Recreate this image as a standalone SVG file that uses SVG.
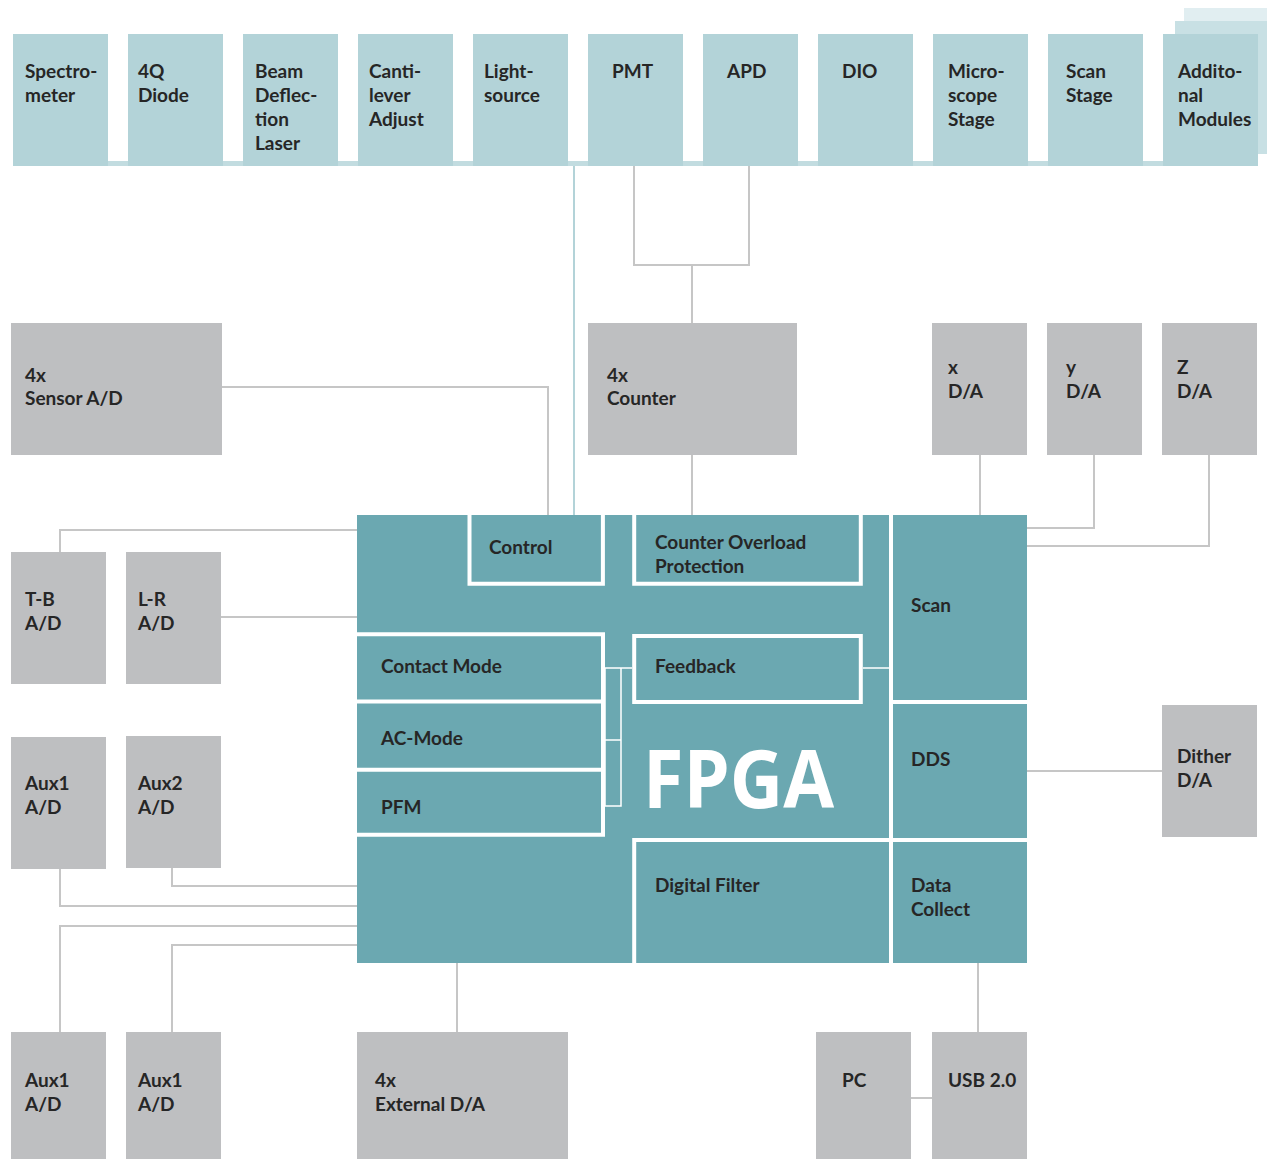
<svg xmlns="http://www.w3.org/2000/svg" width="1267" height="1159" viewBox="0 0 1267 1159">
<style>
.mod{fill:#b3d3d8}
.gray{fill:#bebfc1}
.t{font-family:Lato,"Open Sans","Liberation Sans",sans-serif;font-weight:700;font-size:19px;fill:#262626}
.c{fill:none;stroke:#c6c6c6;stroke-width:2}
.cb{fill:none;stroke:#b3d3d8;stroke-width:2}
.w{fill:none;stroke:#ffffff;stroke-width:4}
.wt{fill:none;stroke:#ffffff;stroke-width:1.5}
.big{font-family:"Open Sans","Liberation Sans",sans-serif;font-weight:700;font-size:80px;fill:#ffffff}
</style>
<rect width="1267" height="1159" fill="#ffffff"/>

<g id="connectors">
  <path class="cb" d="M574,166 V515"/>
  <path class="c" d="M634,166 V265 H749 V162"/>
  <path class="c" d="M692,265 V323"/>
  <path class="c" d="M692,455 V515"/>
  <path class="c" d="M222,387 H548 V515"/>
  <path class="c" d="M980,455 V515"/>
  <path class="c" d="M1094,455 V528 H1027"/>
  <path class="c" d="M1209,455 V546 H1027"/>
  <path class="c" d="M1162,771 H1027"/>
  <path class="c" d="M60,552 V530 H357"/>
  <path class="c" d="M221,617 H357"/>
  <path class="c" d="M60,869 V906 H357"/>
  <path class="c" d="M172,868 V886 H357"/>
  <path class="c" d="M60,1032 V926 H357"/>
  <path class="c" d="M172,1032 V945 H357"/>
  <path class="c" d="M457,963 V1032"/>
  <path class="c" d="M978,963 V1032"/>
  <path class="c" d="M911,1098 H932"/>
</g>

<g id="module-strip">
  <rect x="1184" y="8" width="83" height="140" fill="#e1eef1"/>
  <rect x="1175" y="21" width="92" height="133" fill="#c8e0e4"/>
  <rect x="13" y="161" width="1245" height="5" fill="#c2dce0"/>
</g>
<g id="spectrometer"><rect class="mod" x="13" y="34" width="95" height="132"/><text class="t" x="25" y="78">Spectro-</text><text class="t" x="25" y="102">meter</text></g>
<g id="diode4q"><rect class="mod" x="128" y="34" width="95" height="132"/><text class="t" x="138" y="78">4Q</text><text class="t" x="138" y="102">Diode</text></g>
<g id="beam"><rect class="mod" x="243" y="34" width="95" height="132"/><text class="t" x="255" y="78">Beam</text><text class="t" x="255" y="102">Deflec-</text><text class="t" x="255" y="126">tion</text><text class="t" x="255" y="150">Laser</text></g>
<g id="cantilever"><rect class="mod" x="358" y="34" width="95" height="132"/><text class="t" x="369" y="78">Canti-</text><text class="t" x="369" y="102">lever</text><text class="t" x="369" y="126">Adjust</text></g>
<g id="lightsource"><rect class="mod" x="473" y="34" width="95" height="132"/><text class="t" x="484" y="78">Light-</text><text class="t" x="484" y="102">source</text></g>
<g id="pmt"><rect class="mod" x="588" y="34" width="95" height="132"/><text class="t" x="612" y="78">PMT</text></g>
<g id="apd"><rect class="mod" x="703" y="34" width="95" height="132"/><text class="t" x="727" y="78">APD</text></g>
<g id="dio"><rect class="mod" x="818" y="34" width="95" height="132"/><text class="t" x="842" y="78">DIO</text></g>
<g id="microscope"><rect class="mod" x="933" y="34" width="95" height="132"/><text class="t" x="948" y="78">Micro-</text><text class="t" x="948" y="102">scope</text><text class="t" x="948" y="126">Stage</text></g>
<g id="scanstage"><rect class="mod" x="1048" y="34" width="95" height="132"/><text class="t" x="1066" y="78">Scan</text><text class="t" x="1066" y="102">Stage</text></g>
<g id="additional"><rect class="mod" x="1163" y="34" width="95" height="132"/><text class="t" x="1178" y="78">Addito-</text><text class="t" x="1178" y="102">nal</text><text class="t" x="1178" y="126">Modules</text></g>

<g id="sensor-ad"><rect class="gray" x="11" y="323" width="211" height="132"/><text class="t" x="25" y="382">4x</text><text class="t" x="25" y="405">Sensor A/D</text></g>
<g id="counter"><rect class="gray" x="588" y="323" width="209" height="132"/><text class="t" x="607" y="382">4x</text><text class="t" x="607" y="405">Counter</text></g>
<g id="x-da"><rect class="gray" x="932" y="323" width="95" height="132"/><text class="t" x="948" y="374">x</text><text class="t" x="948" y="398">D/A</text></g>
<g id="y-da"><rect class="gray" x="1047" y="323" width="95" height="132"/><text class="t" x="1066" y="374">y</text><text class="t" x="1066" y="398">D/A</text></g>
<g id="z-da"><rect class="gray" x="1162" y="323" width="95" height="132"/><text class="t" x="1177" y="374">Z</text><text class="t" x="1177" y="398">D/A</text></g>

<g id="tb-ad"><rect class="gray" x="11" y="552" width="95" height="132"/><text class="t" x="25" y="606">T-B</text><text class="t" x="25" y="630">A/D</text></g>
<g id="lr-ad"><rect class="gray" x="126" y="552" width="95" height="132"/><text class="t" x="138" y="606">L-R</text><text class="t" x="138" y="630">A/D</text></g>
<g id="aux1-ad"><rect class="gray" x="11" y="737" width="95" height="132"/><text class="t" x="25" y="790">Aux1</text><text class="t" x="25" y="814">A/D</text></g>
<g id="aux2-ad"><rect class="gray" x="126" y="736" width="95" height="132"/><text class="t" x="138" y="790">Aux2</text><text class="t" x="138" y="814">A/D</text></g>
<g id="dither-da"><rect class="gray" x="1162" y="705" width="95" height="132"/><text class="t" x="1177" y="763">Dither</text><text class="t" x="1177" y="787">D/A</text></g>

<g id="aux1-ad-b1"><rect class="gray" x="11" y="1032" width="95" height="127"/><text class="t" x="25" y="1087">Aux1</text><text class="t" x="25" y="1111">A/D</text></g>
<g id="aux1-ad-b2"><rect class="gray" x="126" y="1032" width="95" height="127"/><text class="t" x="138" y="1087">Aux1</text><text class="t" x="138" y="1111">A/D</text></g>
<g id="external-da"><rect class="gray" x="357" y="1032" width="211" height="127"/><text class="t" x="375" y="1087">4x</text><text class="t" x="375" y="1111">External D/A</text></g>
<g id="pc"><rect class="gray" x="816" y="1032" width="95" height="127"/><text class="t" x="842" y="1087">PC</text></g>
<g id="usb"><rect class="gray" x="932" y="1032" width="95" height="127"/><text class="t" x="948" y="1087">USB 2.0</text></g>

<g id="fpga">
  <rect x="357" y="515" width="670" height="448" fill="#6ba8b1"/>
  <path class="w" d="M891,515 V963"/>
  <path class="w" d="M891,702 H1027 M891,840 H1027"/>
  <path class="w" d="M469.5,515 V583.7 H602.9 V515"/>
  <path class="w" d="M634.2,515 V583.7 H860.8 V515"/>
  <path class="w" d="M357,634.3 H603 V836.7 M357,701.5 H603 M357,769.7 H603 M357,834.7 H605"/>
  <rect class="w" x="634.2" y="636" width="226.6" height="66"/>
  <path class="w" d="M634.2,963 V840 H891"/>
  <path class="wt" d="M605,668 H632 M605,668 V806 H621 V668 M605,740 H621 M863,668 H889"/>
  <text class="big" x="643" y="808" textLength="191" lengthAdjust="spacingAndGlyphs">FPGA</text>
</g>
<g id="fpga-control"><text class="t" x="489" y="554">Control</text></g>
<g id="fpga-counter-overload"><text class="t" x="655" y="549">Counter Overload</text><text class="t" x="655" y="573">Protection</text></g>
<g id="fpga-contact"><text class="t" x="381" y="673">Contact Mode</text></g>
<g id="fpga-feedback"><text class="t" x="655" y="673">Feedback</text></g>
<g id="fpga-ac"><text class="t" x="381" y="745">AC-Mode</text></g>
<g id="fpga-pfm"><text class="t" x="381" y="814">PFM</text></g>
<g id="fpga-scan"><text class="t" x="911" y="612">Scan</text></g>
<g id="fpga-dds"><text class="t" x="911" y="766">DDS</text></g>
<g id="fpga-filter"><text class="t" x="655" y="892">Digital Filter</text></g>
<g id="fpga-data"><text class="t" x="911" y="892">Data</text><text class="t" x="911" y="916">Collect</text></g>
</svg>
